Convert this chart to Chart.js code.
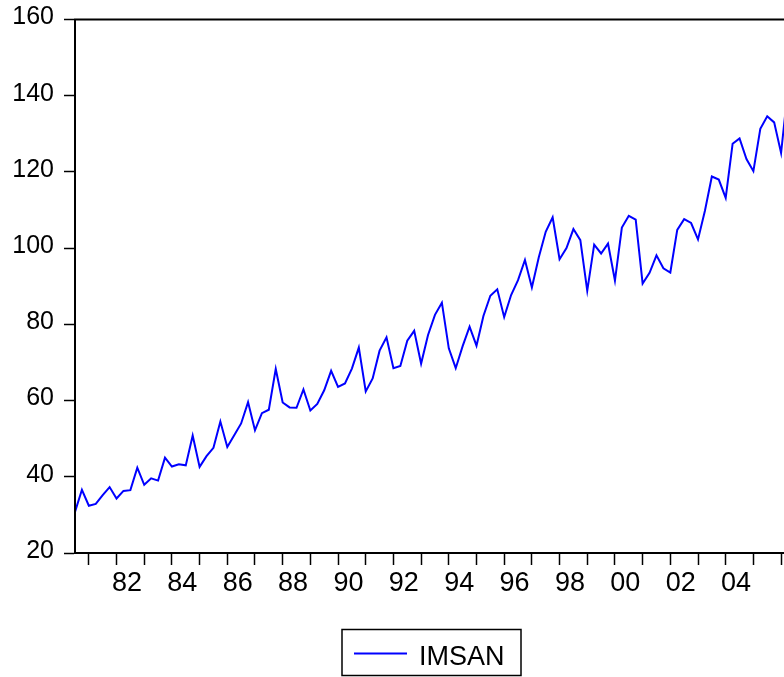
<!DOCTYPE html>
<html>
<head>
<meta charset="utf-8">
<script src="https://cdn.jsdelivr.net/npm/chart.js@4/dist/chart.umd.min.js"></script>
<style>
  html, body { margin: 0; padding: 0; background: #fff; overflow: hidden; }
  #wrap { width: 800px; height: 677px; }
</style>
</head>
<body>
<div id="wrap"><canvas id="c" width="800" height="677"></canvas></div>
<script>
// IMSAN, quarterly observations from 1980Q3 to 2006Q2
const seriesName = 'IMSAN';
const firstYear = 1980;
const firstQuarter = 3;

const imsan = [
  30.8, 36.6,
  32.4, 32.9, 35.2, 37.3,     // 1981
  34.3, 36.3, 36.5, 42.4,     // 1982
  37.9, 39.6, 39.0, 45.0,     // 1983
  42.7, 43.3, 43.0, 50.8,     // 1984
  42.6, 45.4, 47.6, 54.5,     // 1985
  47.8, 50.9, 54.0, 59.6,     // 1986
  52.2, 56.7, 57.6, 68.3,     // 1987
  59.5, 58.2, 58.1, 62.9,     // 1988
  57.4, 59.1, 62.7, 67.8,     // 1989
  63.6, 64.5, 68.4, 73.9,     // 1990
  62.4, 65.8, 73.1, 76.6,     // 1991
  68.5, 69.1, 75.7, 78.3,     // 1992
  69.7, 77.2, 82.5, 85.7,     // 1993
  73.7, 68.5, 74.3, 79.4,     // 1994
  74.4, 82.2, 87.5, 89.2,     // 1995
  81.9, 87.7, 91.6, 96.9,     // 1996
  89.7, 97.6, 104.3, 108.1,   // 1997
  97.1, 100.0, 105.0, 102.1,  // 1998
  88.8, 100.9, 98.6, 101.2,   // 1999
  91.5, 105.4, 108.5, 107.5,  // 2000
  90.7, 93.5, 98.1, 94.7,     // 2001
  93.6, 104.8, 107.6, 106.6,  // 2002
  102.3, 109.8, 118.8, 118.0, // 2003
  113.2, 127.4, 128.8, 123.4, // 2004
  120.2, 131.3, 134.6, 133.0, // 2005
  125.0, 142.0                // 2006
];

// Year labels shown under the axis (two-digit years)
const yearTickLabels = ['82', '84', '86', '88', '90', '92', '94', '96', '98', '00', '02', '04'];
// Value axis ticks
const yTickValues = [20, 40, 60, 80, 100, 120, 140, 160];

// Quarter names for each observation
const periods = imsan.map((_, i) => {
  const q = firstQuarter - 1 + i;
  return (firstYear + Math.floor(q / 4)) + 'Q' + (q % 4 + 1);
});

const FONT = '"Liberation Sans", Arial, Helvetica, sans-serif';

// Closed frame round the plot area
const frame = {
  id: 'frame',
  afterDatasetsDraw(chart) {
    const { ctx, chartArea: a } = chart;
    ctx.save();
    ctx.strokeStyle = '#000';
    ctx.lineWidth = 2;
    ctx.strokeRect(a.left, a.top, a.right - a.left, a.bottom - a.top);
    ctx.restore();
  }
};

// Boxed legend centred under the plot
const boxedLegend = {
  id: 'boxedLegend',
  afterDraw(chart) {
    const { ctx, chartArea: a } = chart;
    const ds = chart.data.datasets[0];
    const cx = (a.left + a.right) / 2;
    const top = a.bottom + 76.5;
    const w = 179, h = 46;
    ctx.save();
    ctx.strokeStyle = '#000';
    ctx.lineWidth = 1.5;
    ctx.strokeRect(cx - w / 2, top, w, h);
    ctx.strokeStyle = ds.borderColor;
    ctx.lineWidth = ds.borderWidth;
    ctx.beginPath();
    ctx.moveTo(cx - 77.5, top + 24);
    ctx.lineTo(cx - 24.5, top + 24);
    ctx.stroke();
    ctx.fillStyle = '#000';
    ctx.font = '27px ' + FONT;
    ctx.textBaseline = 'alphabetic';
    ctx.textAlign = 'left';
    ctx.fillText(ds.label, cx - 12.5, top + 35);
    ctx.restore();
  }
};

new Chart(document.getElementById('c'), {
  type: 'line',
  data: {
    datasets: [{
      label: seriesName,
      data: imsan.map((v, i) => ({ x: i, y: v })),
      borderColor: '#0000FF',
      borderWidth: 2,
      pointRadius: 0,
      tension: 0,
      fill: false
    }]
  },
  options: {
    responsive: false,
    animation: false,
    devicePixelRatio: 1,
    layout: { padding: { left: 0, top: 19.5, right: 12, bottom: 64 } },
    plugins: { legend: { display: false }, tooltip: { enabled: false } },
    scales: {
      x: {
        type: 'linear',
        min: 0,
        max: imsan.length - 1,
        afterBuildTicks(scale) {
          scale.ticks = periods
            .map((p, i) => (p.endsWith('Q1') ? { value: i } : null))
            .filter(Boolean);
        },
        afterFit(scale) {
          scale.height = 60;
          scale.paddingLeft = 0;
          scale.paddingRight = 0;
        },
        border: { display: true, color: '#000', width: 2 },
        grid: {
          display: true,
          drawOnChartArea: false,
          drawTicks: true,
          tickLength: 12,
          tickColor: '#000',
          tickWidth: 1.5
        },
        ticks: {
          autoSkip: false,
          maxRotation: 0,
          minRotation: 0,
          padding: 2,
          labelOffset: 10.4,
          color: '#000',
          font: { family: FONT, size: 27 },
          callback(value) {
            const p = periods[value];
            if (!p) return '';
            const yy = p.slice(2, 4);
            return yearTickLabels.includes(yy) ? yy : '';
          }
        }
      },
      y: {
        min: 20,
        max: 160,
        afterBuildTicks(scale) {
          scale.ticks = yTickValues.map(v => ({ value: v }));
        },
        afterFit(scale) {
          scale.width = 75;
          scale.paddingTop = 0;
          scale.paddingBottom = 0;
        },
        border: { display: true, color: '#000', width: 2 },
        grid: {
          display: true,
          drawOnChartArea: false,
          drawTicks: true,
          tickLength: 11,
          tickColor: '#000',
          tickWidth: 1.5
        },
        ticks: {
          padding: 10,
          labelOffset: -2,
          color: '#000',
          font: { family: FONT, size: 25 }
        }
      }
    }
  },
  plugins: [frame, boxedLegend]
});
</script>
</body>
</html>
